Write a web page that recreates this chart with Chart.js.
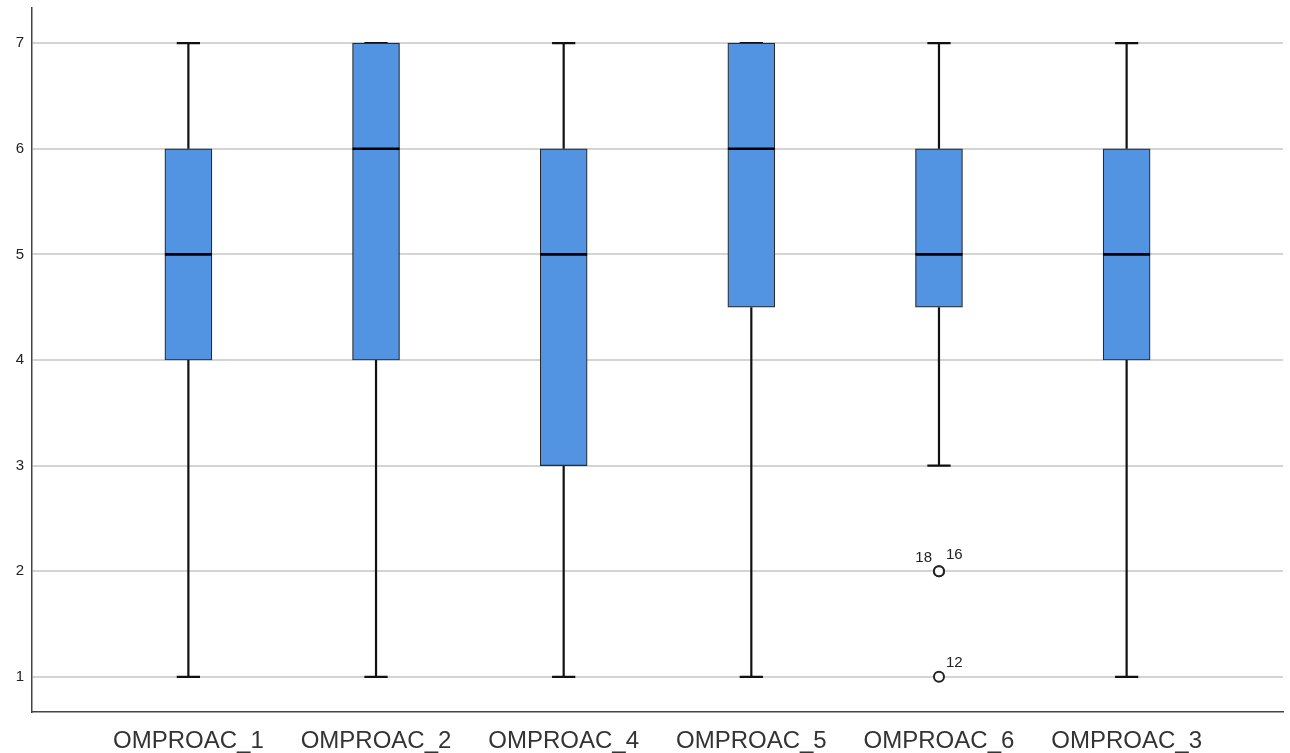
<!DOCTYPE html>
<html>
<head>
<meta charset="utf-8">
<script src="https://cdn.jsdelivr.net/npm/chart.js@4/dist/chart.umd.min.js"></script>
<style>
  html, body { margin: 0; padding: 0; background: #ffffff; }
  #wrap { width: 1290px; height: 753px; }
</style>
</head>
<body>
<div id="wrap"><canvas id="c" width="1290" height="753"></canvas></div>
<script>
// ---- data ----
const categories = ['OMPROAC_1', 'OMPROAC_2', 'OMPROAC_4', 'OMPROAC_5', 'OMPROAC_6', 'OMPROAC_3'];
const whiskerMin = [1, 1, 1, 1, 3, 1];
const q1Values   = [4, 4, 3, 4.5, 4.5, 4];
const medians    = [5, 6, 5, 6, 5, 5];
const q3Values   = [6, 7, 6, 7, 6, 6];
const whiskerMax = [7, 7, 7, 7, 7, 7];
const outlierCategory = [5, 5, 5];
const outlierValues   = [2, 2, 1];
const outlierLabels   = ['18', '16', '12'];
const yTickValues = [1, 2, 3, 4, 5, 6, 7];

// ---- styles ----
const BOX_FILL = '#5294e2';
const BOX_EDGE = '#2b2b2b';
const CAP_HALF = 0.062;   // in category units
const BOX_HALF = 0.125;

const positions = categories.map((_, i) => i + 1);

const boxData = positions.map((x, i) => ({ x: x, y: [q1Values[i], q3Values[i]] }));

const whiskerData = [];
positions.forEach((x, i) => {
  whiskerData.push({ x: x, y: whiskerMin[i] }, { x: x, y: q1Values[i] }, { x: x, y: null });
  whiskerData.push({ x: x, y: q3Values[i] }, { x: x, y: whiskerMax[i] }, { x: x, y: null });
  whiskerData.push({ x: x - CAP_HALF, y: whiskerMin[i] }, { x: x + CAP_HALF, y: whiskerMin[i] }, { x: x, y: null });
  whiskerData.push({ x: x - CAP_HALF, y: whiskerMax[i] }, { x: x + CAP_HALF, y: whiskerMax[i] }, { x: x, y: null });
});

const medianData = [];
positions.forEach((x, i) => {
  medianData.push({ x: x - BOX_HALF, y: medians[i] }, { x: x + BOX_HALF, y: medians[i] }, { x: x, y: null });
});

const outlierData = outlierCategory.map((c, i) => ({ x: c, y: outlierValues[i] }));

const labelOffsets = [{ dx: -7, dy: -9, align: 'right' }, { dx: 7, dy: -12, align: 'left' }, { dx: 7, dy: -10, align: 'left' }];

const outlierLabelPlugin = {
  id: 'outlierLabels',
  afterDatasetsDraw(chart) {
    const meta = chart.getDatasetMeta(3);
    const ctx = chart.ctx;
    ctx.save();
    ctx.font = '15px "Liberation Sans", Arial, sans-serif';
    ctx.fillStyle = '#222';
    ctx.textBaseline = 'alphabetic';
    meta.data.forEach((pt, i) => {
      const o = labelOffsets[i];
      ctx.textAlign = o.align;
      ctx.fillText(outlierLabels[i], pt.x + o.dx, pt.y + o.dy);
    });
    ctx.restore();
  }
};

new Chart(document.getElementById('c'), {
  type: 'bar',
  data: {
    datasets: [
      {
        type: 'bar',
        data: boxData,
        backgroundColor: BOX_FILL,
        borderColor: BOX_EDGE,
        borderWidth: 1.2,
        borderSkipped: false,
        barThickness: 47,
        order: 3
      },
      {
        type: 'line',
        data: whiskerData,
        borderColor: '#111',
        borderWidth: 2.2,
        pointRadius: 0,
        spanGaps: false,
        tension: 0,
        order: 4
      },
      {
        type: 'line',
        data: medianData,
        borderColor: '#000',
        borderWidth: 2.6,
        pointRadius: 0,
        spanGaps: false,
        tension: 0,
        order: 1
      },
      {
        type: 'scatter',
        data: outlierData,
        pointRadius: 5,
        pointBorderWidth: 2,
        borderColor: '#222',
        backgroundColor: '#fff',
        pointBackgroundColor: '#fff',
        pointBorderColor: '#222',
        order: 0
      }
    ]
  },
  options: {
    responsive: false,
    animation: false,
    layout: { padding: { top: 8, right: 7, left: 0, bottom: 0 } },
    plugins: { legend: { display: false }, tooltip: { enabled: false } },
    scales: {
      x: {
        type: 'linear',
        offset: false,
        min: 1 / 6,
        max: 6 + 5 / 6,
        afterBuildTicks: (scale) => { scale.ticks = positions.map(v => ({ value: v })); },
        afterFit: (scale) => { scale.height = 41; scale.paddingLeft = 0; scale.paddingRight = 0; },
        ticks: {
          autoSkip: false,
          maxRotation: 0,
          padding: 15,
          color: '#333',
          font: { family: '"Liberation Sans", Arial, sans-serif', size: 24 },
          callback: (v) => categories[Math.round(v) - 1] || ''
        },
        grid: { display: true, offset: false, color: 'rgba(0,0,0,0)', drawTicks: false },
        border: { display: true, color: '#444', width: 1.5 }
      },
      y: {
        type: 'linear',
        min: 2 / 3,
        max: 7 + 1 / 3,
        afterBuildTicks: (scale) => { scale.ticks = yTickValues.map(v => ({ value: v })); },
        afterFit: (scale) => { scale.width = 32; scale.paddingTop = 0; scale.paddingBottom = 0; },
        ticks: {
          padding: 8,
          color: '#222',
          font: { family: '"Liberation Sans", Arial, sans-serif', size: 15 }
        },
        grid: { color: '#d4d4d4', lineWidth: 2, drawTicks: false },
        border: { display: true, color: '#444', width: 1.5 }
      }
    }
  },
  plugins: [outlierLabelPlugin]
});
</script>
</body>
</html>
